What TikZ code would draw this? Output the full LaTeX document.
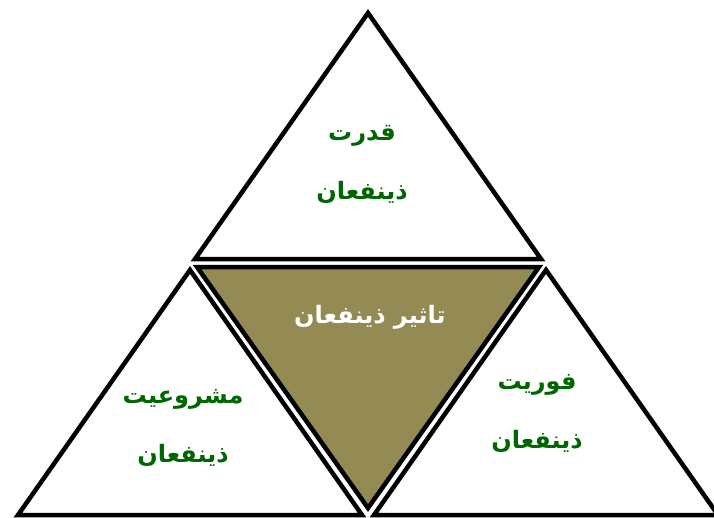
\documentclass[tikz,border=0pt]{standalone}
\usepackage{fontspec}
\newfontfamily\arabicfont[Script=Arabic]{DejaVu Sans}
\TeXXeTstate=1
\usepackage{xcolor}
\definecolor{labelgreen}{RGB}{0,102,0}
\definecolor{olivefill}{RGB}{148,138,84}

\begin{document}
\begin{tikzpicture}[x=1pt, y=-1pt, line width=4.5pt, line join=miter,
  tri/.style={draw=black, fill=white},
  label/.style={font=\arabicfont\bfseries\fontsize{24}{59}\selectfont,
    text=labelgreen, align=center}]
\useasboundingbox (0,0) rectangle (714,517);
% corners of the four triangles
\coordinate (topA) at (368,13);
\coordinate (topL) at (195,259);
\coordinate (topR) at (541,259);
\coordinate (midL) at (197,267);
\coordinate (midR) at (539,267);
\coordinate (midB) at (368,508);
\coordinate (leftA) at (190,270);
\coordinate (leftL) at (18,515);
\coordinate (leftR) at (362,515);
\coordinate (rightA) at (546,270);
\coordinate (rightL) at (374,515);
\coordinate (rightR) at (718,515);
\draw[tri] (topA) -- (topL) -- (topR) -- cycle;
\draw[tri] (leftA) -- (leftL) -- (leftR) -- cycle;
\draw[tri] (rightA) -- (rightL) -- (rightR) -- cycle;
\draw[draw=black, fill=olivefill] (midL) -- (midR) -- (midB) -- cycle;
% labels
\node[label] (power) at (362,164) {\beginR قدرت\endR\\\beginR ذینفعان\endR};
\node[label, text=white] (impact) at (370,317) {\beginR تاثیر ذینفعان\endR};
\node[label] (legit) at (183,428) {\beginR مشروعیت\endR\\\beginR ذینفعان\endR};
\node[label] (urgency) at (537,413) {\beginR فوریت\endR\\\beginR ذینفعان\endR};
\end{tikzpicture}
\end{document}
